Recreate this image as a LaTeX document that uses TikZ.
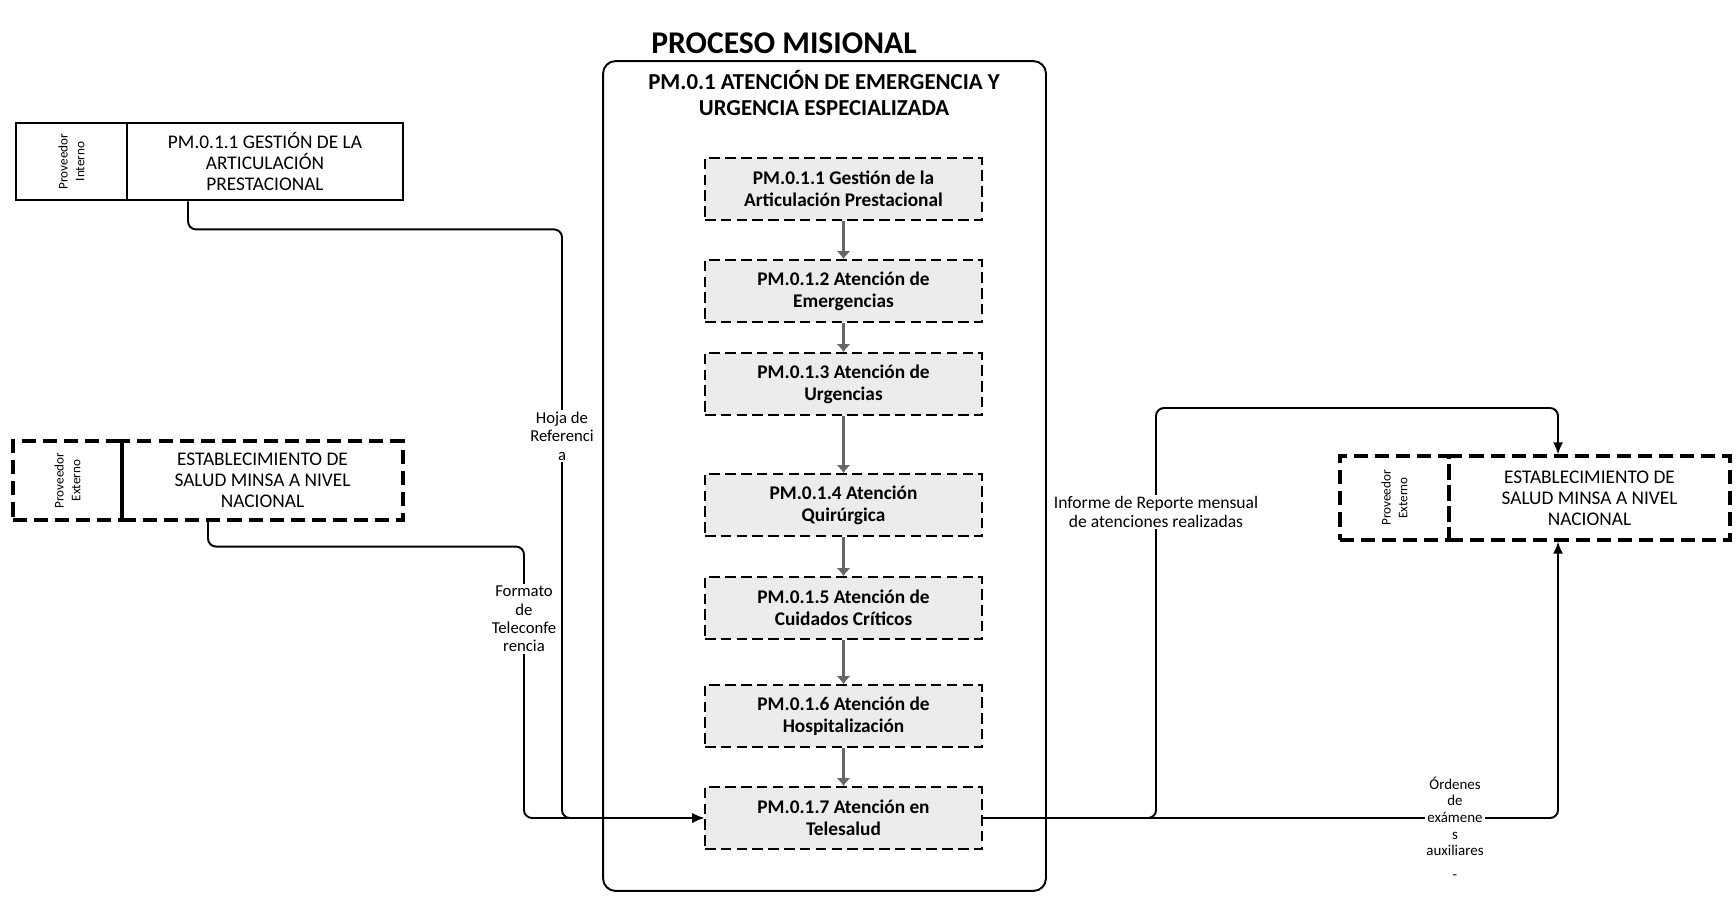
\documentclass[tikz,border=0pt]{standalone}
\usepackage{fontspec}
\setmainfont{Carlito}
\usetikzlibrary{arrows.meta}
\begin{document}
\begin{tikzpicture}[x=0.02cm,y=-0.02cm,
  conn/.style={line width=1.1pt, rounded corners=0.16cm},
  tip/.style={-{Latex[length=2.4mm,width=2mm]}},
  flow/.style={line width=2.2pt, black!60, -{Latex[length=1.6mm,width=2.8mm]}},
  stage/.style={draw, line width=1pt, dash pattern=on 6pt off 3pt, fill=gray!15,
    minimum width=5.54cm, minimum height=1.24cm, align=center, inner sep=2pt,
    font=\bfseries\fontsize{11}{12.5}\selectfont},
  solidbox/.style={draw, line width=1.6pt, minimum height=1.54cm, align=center,
    font=\fontsize{11}{12}\selectfont},
  dashbox/.style={draw, line width=1.8pt, dash pattern=on 8pt off 4pt, align=center,
    font=\fontsize{11}{12}\selectfont},
  rolelbl/.style={rotate=90, align=center, font=\fontsize{7.5}{9.5}\selectfont},
  lbl/.style={fill=white, align=center, inner sep=1pt}
]
\useasboundingbox (0,0) rectangle (1736,899);

% heading
\node[font=\bfseries\fontsize{18}{20}\selectfont] (title) at (784,43) {PROCESO MISIONAL};

% main process container
\node[draw, line width=1.1pt, rounded corners=0.25cm, minimum width=8.86cm,
  minimum height=16.6cm] (proc) at (824.5,476) {};
\node[font=\bfseries\fontsize{13}{15}\selectfont, align=center] (proctitle) at (824,93)
  {PM.0.1 ATENCIÓN DE EMERGENCIA Y\\URGENCIA ESPECIALIZADA};

% sub-processes
\node[stage] (s1) at (843.5,189) {PM.0.1.1 Gestión de la\\Articulación Prestacional};
\node[stage] (s2) at (843.5,291) {PM.0.1.2 Atención de\\Emergencias};
\node[stage] (s3) at (843.5,384) {PM.0.1.3 Atención de\\Urgencias};
\node[stage] (s4) at (843.5,505) {PM.0.1.4 Atención\\Quirúrgica};
\node[stage] (s5) at (843.5,608) {PM.0.1.5 Atención de\\Cuidados Críticos};
\node[stage] (s6) at (843.5,716) {PM.0.1.6 Atención de\\Hospitalización};
\node[stage] (s7) at (843.5,818) {PM.0.1.7 Atención en\\Telesalud};
\foreach \a/\b in {s1/s2,s2/s3,s3/s4,s4/s5,s5/s6,s6/s7}
  \draw[flow] (\a.south) -- (\b.north);

% internal supplier
\node[solidbox, minimum width=2.22cm] (Aint) at (71.5,161.5) {};
\node[rolelbl] (Aintlbl) at (Aint) {Proveedor\\Interno};
\node[solidbox, minimum width=5.52cm] (Amain) at (265,161.5)
  {PM.0.1.1 GESTIÓN DE LA\\ARTICULACIÓN\\PRESTACIONAL};

% external supplier
\node[dashbox, minimum width=2.18cm, minimum height=1.58cm] (Bext) at (67.5,480.5) {};
\node[rolelbl] (Bextlbl) at (Bext) {Proveedor\\Externo};
\node[dashbox, minimum width=5.62cm, minimum height=1.58cm] (Bmain) at (262.5,480.5)
  {ESTABLECIMIENTO DE\\SALUD MINSA A NIVEL\\NACIONAL};

% external client
\node[dashbox, minimum width=2.18cm, minimum height=1.68cm] (Cext) at (1394.5,498) {};
\node[rolelbl] (Cextlbl) at (Cext) {Proveedor\\Externo};
\node[dashbox, minimum width=5.62cm, minimum height=1.68cm] (Cmain) at (1589.5,498)
  {ESTABLECIMIENTO DE\\SALUD MINSA A NIVEL\\NACIONAL};

% inputs
\draw[conn,tip] ([xshift=-1.54cm]Amain.south) -- ++(0,28) -| (562,818) -- (s7.west);
\draw[conn,tip] ([xshift=-1.09cm]Bmain.south) -- ++(0,25) -| (524,818) -- (s7.west);
\node[lbl, font=\fontsize{9.5}{10.5}\selectfont] (hoja) at (562,436) {Hoja de\\Referenci\\a};
\node[lbl, font=\fontsize{9.5}{10.5}\selectfont] (formato) at (524,619)
  {Formato\\de\\Teleconfe\\rencia};

% outputs
\draw[conn,tip] (s7.east) -| (1156,408) -| ([xshift=-0.63cm]Cmain.north);
\draw[conn,tip] (s7.east) -| ([xshift=-0.63cm]Cmain.south);
\node[lbl, font=\fontsize{10}{10.5}\selectfont] (informe) at (1156,512)
  {Informe de Reporte mensual\\de atenciones realizadas};
\node[lbl, font=\fontsize{8.5}{9.5}\selectfont] (ordenes) at (1455,828)
  {Órdenes\\de\\exámene\\s\\auxiliares\\[4pt]-};
\end{tikzpicture}
\end{document}
